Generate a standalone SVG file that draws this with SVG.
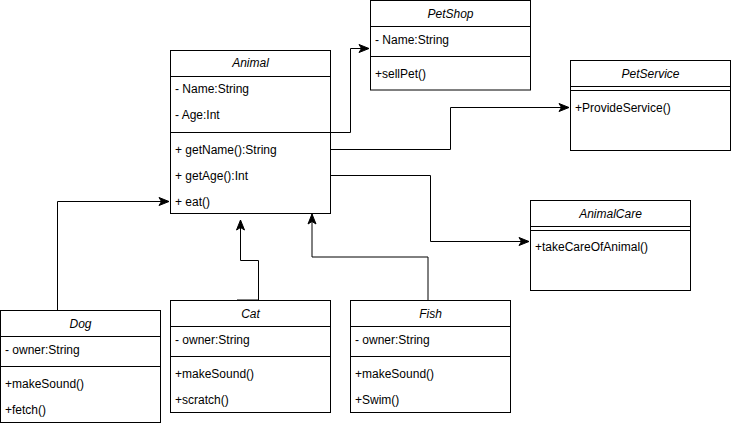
<svg xmlns="http://www.w3.org/2000/svg" width="731" height="426" viewBox="0 0 731 426">
<defs>
<style>
.box{fill:#fff;stroke:#000;stroke-width:1}
.ln{stroke:#000;stroke-width:1;fill:none}
.t{font-family:"Liberation Sans",Arial,sans-serif;font-size:12px;fill:#000}
.h{font-style:italic;text-anchor:middle}
.edge{stroke:#000;stroke-width:1;fill:none;marker-end:url(#arr)}
</style>
<marker id="arr" markerUnits="userSpaceOnUse" markerWidth="12" markerHeight="10" refX="10" refY="4" orient="auto" overflow="visible">
<path d="M0,0 L10,4 L0,8 L2.5,4 Z" fill="#000" stroke="#000" stroke-width="1"/>
</marker>
</defs>
<rect width="731" height="426" fill="#fff"/>
<g id="connectors">
<path class="edge" d="M330,132.5 H350.5 V48.5 H369"/>
<path class="edge" d="M330,149.5 H450.5 V107.5 H569"/>
<path class="edge" d="M330,175.5 H430.5 V241.5 H529"/>
<path class="edge" d="M57.5,310 V201.5 H169"/>
<path class="edge" d="M237,300 H258.5 V260.5 H240.5 V220"/>
<path class="edge" d="M428,300 V257 H312 V214"/>
</g>
<g id="Animal">
<rect class="box" x="170.5" y="50.5" width="160" height="163"/>
<line class="ln" x1="170.5" y1="76.5" x2="330.5" y2="76.5"/>
<line class="ln" x1="170.5" y1="132.5" x2="330.5" y2="132.5"/>
<text class="t h" x="250.5" y="67">Animal</text>
<text class="t" x="175" y="93">- Name:String</text>
<text class="t" x="175" y="119">- Age:Int</text>
<text class="t" x="175" y="154">+ getName():String</text>
<text class="t" x="175" y="180">+ getAge():Int</text>
<text class="t" x="175" y="206">+ eat()</text>
</g>
<g id="PetShop">
<rect class="box" x="370.5" y="0.5" width="160" height="89.5"/>
<line class="ln" x1="370.5" y1="26.5" x2="530.5" y2="26.5"/>
<line class="ln" x1="370.5" y1="56.5" x2="530.5" y2="56.5"/>
<text class="t h" x="450.5" y="18">PetShop</text>
<text class="t" x="375" y="44">- Name:String</text>
<text class="t" x="375" y="78">+sellPet()</text>
</g>
<g id="PetService">
<rect class="box" x="570.5" y="60.5" width="160" height="90"/>
<line class="ln" x1="570.5" y1="86.5" x2="730.5" y2="86.5"/>
<line class="ln" x1="570.5" y1="90.5" x2="730.5" y2="90.5"/>
<text class="t h" x="650.5" y="78">PetService</text>
<text class="t" x="575" y="112">+ProvideService()</text>
</g>
<g id="AnimalCare">
<rect class="box" x="530.5" y="200.5" width="160" height="90"/>
<line class="ln" x1="530.5" y1="226.5" x2="690.5" y2="226.5"/>
<line class="ln" x1="530.5" y1="230.5" x2="690.5" y2="230.5"/>
<text class="t h" x="610.5" y="218">AnimalCare</text>
<text class="t" x="535" y="251">+takeCareOfAnimal()</text>
</g>
<g id="Dog">
<rect class="box" x="0.5" y="310.5" width="160" height="112"/>
<line class="ln" x1="0.5" y1="336.5" x2="160.5" y2="336.5"/>
<line class="ln" x1="0.5" y1="366.5" x2="160.5" y2="366.5"/>
<text class="t h" x="80.5" y="328">Dog</text>
<text class="t" x="5" y="354">- owner:String</text>
<text class="t" x="5" y="388">+makeSound()</text>
<text class="t" x="5" y="414">+fetch()</text>
</g>
<g id="Cat">
<rect class="box" x="170.5" y="300.5" width="160" height="112"/>
<line class="ln" x1="170.5" y1="326.5" x2="330.5" y2="326.5"/>
<line class="ln" x1="170.5" y1="356.5" x2="330.5" y2="356.5"/>
<text class="t h" x="250.5" y="318">Cat</text>
<text class="t" x="175" y="344">- owner:String</text>
<text class="t" x="175" y="378">+makeSound()</text>
<text class="t" x="175" y="404">+scratch()</text>
</g>
<g id="Fish">
<rect class="box" x="350.5" y="300.5" width="160" height="112"/>
<line class="ln" x1="350.5" y1="326.5" x2="510.5" y2="326.5"/>
<line class="ln" x1="350.5" y1="356.5" x2="510.5" y2="356.5"/>
<text class="t h" x="430.5" y="318">Fish</text>
<text class="t" x="355" y="344">- owner:String</text>
<text class="t" x="355" y="378">+makeSound()</text>
<text class="t" x="355" y="404">+Swim()</text>
</g>
</svg>
